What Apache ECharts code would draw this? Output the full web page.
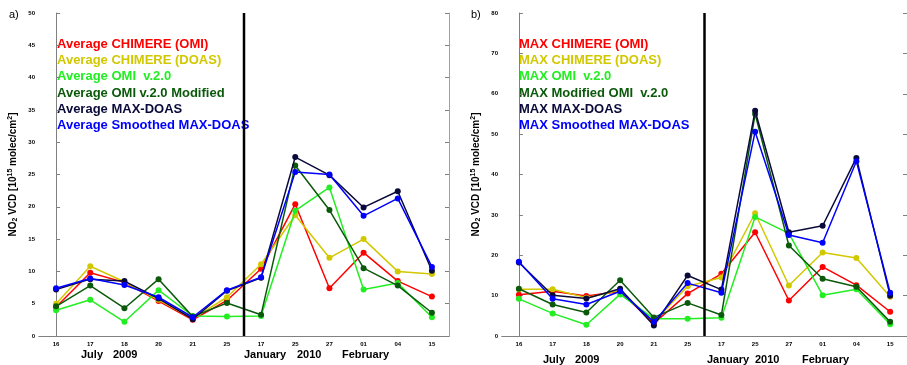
<!DOCTYPE html>
<html>
<head>
<meta charset="utf-8">
<script src="https://cdn.jsdelivr.net/npm/echarts@6/dist/echarts.min.js"></script>
<style>
  html, body { margin: 0; padding: 0; background: #ffffff; }
  #chart { width: 907px; height: 365px; }
</style>
</head>
<body>
<div id="chart"></div>
<script>
// Observation days: six in July 2009, then six in January/February 2010
const days = ['16', '17', '18', '20', '21', '25', '17', '25', '27', '01', '04', '15'];
const julyCount = 6;

// Panel a) daily averages of NO2 VCD [1e15 molec/cm2]
const avgChimereOmi  = [4.5, 9.8, 8.3, 5.4, 2.5, 5.5, 10.4, 20.4, 7.4, 12.9, 8.5, 6.1];
const avgChimereDoas = [5.0, 10.8, 8.4, 5.6, 2.7, 6.0, 11.1, 18.7, 12.1, 15.0, 10.0, 9.6];
const avgOmi         = [4.0, 5.6, 2.2, 7.1, 3.1, 3.0, 3.1, 19.4, 23.0, 7.2, 8.2, 2.9];
const avgOmiMod      = [4.6, 7.8, 4.3, 8.8, 3.0, 5.1, 3.3, 26.4, 19.5, 10.5, 7.8, 3.6];
const avgMaxDoas     = [7.2, 8.8, 8.5, 5.8, 2.6, 7.0, 9.0, 27.7, 24.9, 19.9, 22.4, 10.1];
const avgSmoothDoas  = [7.4, 8.9, 7.9, 6.0, 2.9, 7.1, 9.1, 25.4, 25.0, 18.6, 21.3, 10.7];

// Panel b) daily maxima
const maxChimereOmi  = [10.2, 11.1, 9.9, 11.0, 3.1, 10.5, 15.4, 25.7, 8.8, 17.1, 12.6, 6.0];
const maxChimereDoas = [11.6, 11.6, 9.5, 11.3, 3.5, 12.3, 14.5, 30.4, 12.5, 20.7, 19.3, 9.7];
const maxOmi         = [9.2, 5.6, 2.8, 10.3, 4.3, 4.3, 4.5, 29.5, 25.4, 10.1, 11.6, 2.9];
const maxOmiMod      = [11.7, 7.8, 5.8, 13.8, 4.6, 8.2, 5.2, 55.0, 22.4, 14.2, 12.2, 3.5];
const maxMaxDoas     = [18.2, 10.1, 9.3, 11.7, 2.6, 15.0, 11.5, 55.8, 25.7, 27.3, 44.1, 10.0];
const maxSmoothDoas  = [18.4, 9.2, 7.8, 11.1, 3.5, 13.1, 10.7, 50.6, 25.0, 23.1, 43.3, 10.7];

const namesA = ['Average CHIMERE (OMI)', 'Average CHIMERE (DOAS)', 'Average OMI  v.2.0',
                'Average OMI v.2.0 Modified', 'Average MAX-DOAS', 'Average Smoothed MAX-DOAS'];
const namesB = ['MAX CHIMERE (OMI)', 'MAX CHIMERE (DOAS)', 'MAX OMI  v.2.0',
                'MAX Modified OMI  v.2.0', 'MAX MAX-DOAS', 'MAX Smoothed MAX-DOAS'];
const colors = ['#ff0000', '#d2c800', '#22ee22', '#0b5a0b', '#0a0a3a', '#0000ff'];

const seriesA = [avgChimereOmi, avgChimereDoas, avgOmi, avgOmiMod, avgMaxDoas, avgSmoothDoas];
const seriesB = [maxChimereOmi, maxChimereDoas, maxOmi, maxOmiMod, maxMaxDoas, maxSmoothDoas];

const FONT = '"Liberation Sans", Arial, sans-serif';
const AXIS_GRAY = '#808080';

const yName = 'NO{sub|2} VCD [10{sup|15} molec/cm{sup|2}]';
const yNameStyle = {
  fontFamily: FONT, fontWeight: 'bold', fontSize: 10, color: '#000',
  rich: {
    sub: { fontFamily: FONT, fontWeight: 'bold', fontSize: 7, verticalAlign: 'bottom', lineHeight: 12, color: '#000' },
    sup: { fontFamily: FONT, fontWeight: 'bold', fontSize: 7, verticalAlign: 'top', lineHeight: 12, color: '#000' }
  }
};

function grids() {
  return [
    { left: 39, top: 13, width: 410, height: 323 },
    { left: 502, top: 13, width: 410, height: 323 }
  ];
}

function xAxesFor(gridIndex) {
  return [
    { // bottom day labels
      type: 'category', gridIndex, data: days, position: 'bottom',
      axisLine: { lineStyle: { color: AXIS_GRAY, width: 1 } },
      axisTick: { inside: true, alignWithLabel: true, length: 4, lineStyle: { color: AXIS_GRAY } },
      axisLabel: { fontFamily: FONT, fontWeight: 'bold', fontSize: 6, color: '#000', margin: 5 }
    },
    { // top frame with mirrored ticks
      type: 'category', gridIndex, data: days, position: 'top',
      axisLine: { lineStyle: { color: AXIS_GRAY, width: 1 } },
      axisTick: { inside: true, alignWithLabel: true, length: 4, lineStyle: { color: AXIS_GRAY } },
      axisLabel: { show: false }
    },
    { // continuous index axis for the period separator
      type: 'value', gridIndex, min: -0.5, max: days.length - 0.5, show: false
    }
  ];
}

function yAxesFor(gridIndex, max, interval) {
  return [
    {
      type: 'value', gridIndex, min: 0, max, interval, position: 'left',
      name: yName, nameLocation: 'middle', nameRotate: 90, nameGap: 20,
      nameTextStyle: yNameStyle,
      axisLine: { show: true, lineStyle: { color: AXIS_GRAY, width: 1 } },
      axisTick: { show: true, inside: true, length: 4, lineStyle: { color: AXIS_GRAY } },
      axisLabel: { fontFamily: FONT, fontWeight: 'bold', fontSize: 6, color: '#000', margin: 4 },
      splitLine: { show: false }
    },
    {
      type: 'value', gridIndex, min: 0, max, interval, position: 'right',
      axisLine: { show: true, lineStyle: { color: '#a0a0a0', width: 1 } },
      axisTick: { show: true, inside: true, length: 4, lineStyle: { color: AXIS_GRAY } },
      axisLabel: { show: false },
      splitLine: { show: false }
    }
  ];
}

function lineSeries(names, data, xIdx, yIdx) {
  return data.map((vals, i) => ({
    name: names[i], type: 'line', xAxisIndex: xIdx, yAxisIndex: yIdx,
    data: vals, symbol: 'circle', symbolSize: 6, showSymbol: true,
    lineStyle: { color: colors[i], width: 1.5 },
    itemStyle: { color: colors[i] },
    z: 3 + i, silent: true, animation: false
  }));
}

function separator(xIdx, yIdx, max) {
  const pos = julyCount - 0.5;
  return {
    type: 'line', xAxisIndex: xIdx, yAxisIndex: yIdx,
    data: [[pos, 0], [pos, max]], symbol: 'none',
    lineStyle: { color: '#000', width: 2.5 }, z: 10, silent: true, animation: false
  };
}

function legendTexts(names, x) {
  return names.map((n, i) => ({
    type: 'text', left: x, top: 38 + i * 16.2,
    style: { text: n, fill: colors[i], font: 'bold 13px ' + FONT }
  }));
}

function plainText(txt, x, y, size, bold) {
  return {
    type: 'text', left: x, top: y,
    style: { text: txt, fill: '#000', font: (bold ? 'bold ' : '') + size + 'px ' + FONT }
  };
}

const chart = echarts.init(document.getElementById('chart'), null, { renderer: 'canvas' });

chart.setOption({
  animation: false,
  backgroundColor: '#ffffff',
  grid: grids(),
  xAxis: [...xAxesFor(0), ...xAxesFor(1)],
  yAxis: [...yAxesFor(0, 50, 5), ...yAxesFor(1, 80, 10)],
  series: [
    ...lineSeries(namesA, seriesA, 0, 0),
    separator(2, 0, 50),
    ...lineSeries(namesB, seriesB, 3, 2),
    separator(5, 2, 80)
  ],
  graphic: [
    plainText('a)', 9, 9, 11, false),
    plainText('b)', 471, 9, 11, false),
    ...legendTexts(namesA, 57),
    ...legendTexts(namesB, 519),
    // period labels under the day axis
    plainText('July', 81, 349, 11, true),
    plainText('2009', 113, 349, 11, true),
    plainText('January', 244, 349, 11, true),
    plainText('2010', 297, 349, 11, true),
    plainText('February', 342, 349, 11, true),
    plainText('July', 543, 354, 11, true),
    plainText('2009', 575, 354, 11, true),
    plainText('January', 707, 354, 11, true),
    plainText('2010', 755, 354, 11, true),
    plainText('February', 802, 354, 11, true)
  ]
});
</script>
</body>
</html>
